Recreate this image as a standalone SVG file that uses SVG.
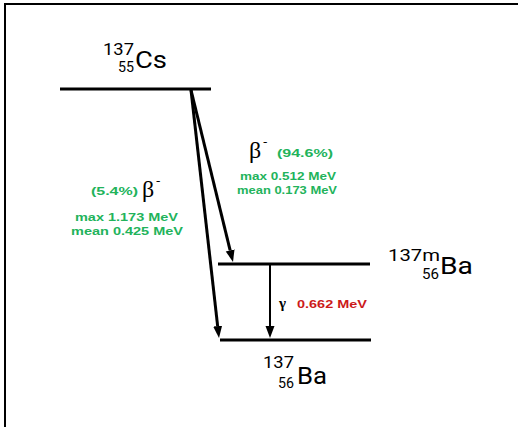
<svg xmlns="http://www.w3.org/2000/svg" width="518" height="427" viewBox="0 0 518 427">
<style>
.lvl{stroke:#000;stroke-width:3;fill:none}
.arr{stroke:#000;stroke-width:3;fill:none}
.gam{stroke:#000;stroke-width:2;fill:none}
.nuc{font-family:Roboto,"Liberation Sans",sans-serif;fill:#000}
.g{font-family:"Liberation Sans",Arial,sans-serif;font-weight:bold;fill:#22b35b}
.r{font-family:"Liberation Sans",Arial,sans-serif;font-weight:bold;fill:#cc1a1a}
.gr{font-family:"Liberation Serif","Times New Roman",serif;fill:#000}
</style>
<defs>
<marker id="ah" markerUnits="userSpaceOnUse" markerWidth="14" markerHeight="10" refX="0" refY="4.5" orient="auto">
<path d="M0,0 L12,4.5 L0,9 z" fill="#000"/>
</marker>
</defs>
<rect x="5" y="4" width="600" height="600" fill="#fff" stroke="#000" stroke-width="2"/>

<g id="cs137">
<line class="lvl" x1="60" y1="89" x2="211" y2="89"/>
<text class="nuc" x="103" y="55" font-size="17" textLength="31" lengthAdjust="spacingAndGlyphs">137</text>
<text class="nuc" x="118" y="72" font-size="14" textLength="16" lengthAdjust="spacingAndGlyphs">55</text>
<text class="nuc" x="135" y="68" font-size="23" textLength="32" lengthAdjust="spacingAndGlyphs">Cs</text>
</g>

<g id="ba137m">
<line class="lvl" x1="218" y1="264" x2="370" y2="264"/>
<text class="nuc" x="388" y="261" font-size="17" textLength="52" lengthAdjust="spacingAndGlyphs">137m</text>
<text class="nuc" x="422" y="279" font-size="14" textLength="17" lengthAdjust="spacingAndGlyphs">56</text>
<text class="nuc" x="440" y="274" font-size="24" textLength="33" lengthAdjust="spacingAndGlyphs">Ba</text>
</g>

<g id="ba137">
<line class="lvl" x1="220" y1="340" x2="371" y2="340"/>
<text class="nuc" x="263" y="368" font-size="17" textLength="31" lengthAdjust="spacingAndGlyphs">137</text>
<text class="nuc" x="278" y="388" font-size="14" textLength="16" lengthAdjust="spacingAndGlyphs">56</text>
<text class="nuc" x="297" y="384" font-size="24" textLength="30" lengthAdjust="spacingAndGlyphs">Ba</text>
</g>

<g id="connectors">
<line class="arr" x1="191" y1="90" x2="230.15" y2="250.34" marker-end="url(#ah)"/>
<line class="arr" x1="191" y1="90" x2="217.65" y2="326.08" marker-end="url(#ah)"/>
<line class="gam" x1="270" y1="265" x2="270" y2="326" marker-end="url(#ah)"/>
</g>

<g id="beta-left">
<text class="g" x="91" y="195" font-size="11.5" textLength="47" lengthAdjust="spacingAndGlyphs">(5.4%)</text>
<text class="gr" x="142" y="197" font-size="24">β</text>
<text class="gr" x="156" y="185" font-size="13">-</text>
<text class="g" x="75" y="221" font-size="10.5" textLength="103" lengthAdjust="spacingAndGlyphs">max 1.173 MeV</text>
<text class="g" x="71" y="235" font-size="10.5" textLength="112" lengthAdjust="spacingAndGlyphs">mean 0.425 MeV</text>
</g>

<g id="beta-right">
<text class="gr" x="249" y="158" font-size="24">β</text>
<text class="gr" x="263" y="146" font-size="13">-</text>
<text class="g" x="277" y="157" font-size="11.5" textLength="56" lengthAdjust="spacingAndGlyphs">(94.6%)</text>
<text class="g" x="240" y="180" font-size="10.5" textLength="96" lengthAdjust="spacingAndGlyphs">max 0.512 MeV</text>
<text class="g" x="237" y="194" font-size="10.5" textLength="100" lengthAdjust="spacingAndGlyphs">mean 0.173 MeV</text>
</g>

<g id="gamma">
<text class="gr" x="279" y="308" font-size="15" font-weight="bold">γ</text>
<text class="r" x="297" y="308" font-size="11" textLength="70" lengthAdjust="spacingAndGlyphs">0.662 MeV</text>
</g>
</svg>
